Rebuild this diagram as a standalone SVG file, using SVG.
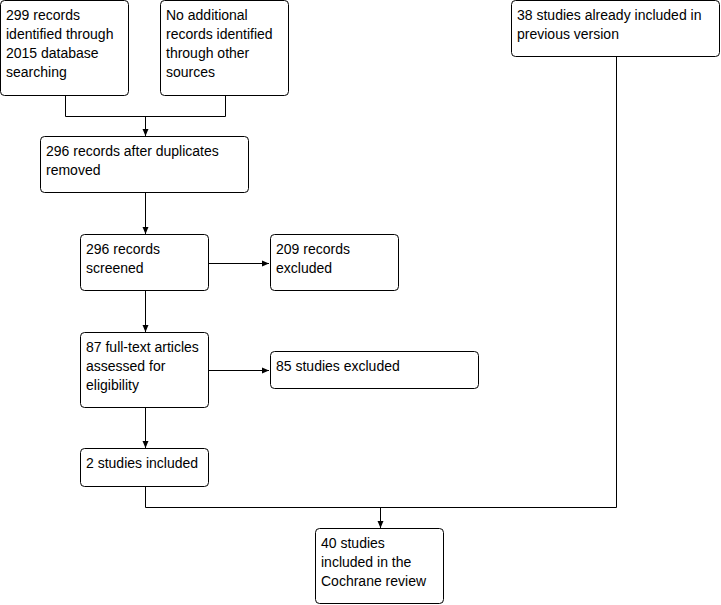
<svg xmlns="http://www.w3.org/2000/svg" width="721" height="605" viewBox="0 0 721 605">
<style>
.b{fill:#fff;stroke:#000;stroke-width:1}
.t{font-family:"Liberation Sans",Arial,sans-serif;font-size:14px;fill:#000}
.c{fill:none;stroke:#000;stroke-width:1}
</style>
<defs>
<marker id="ah" markerWidth="8" markerHeight="8" refX="7" refY="4" orient="auto" markerUnits="userSpaceOnUse">
<path d="M0,1 L7,4 L0,7 Z" fill="#000"/>
</marker>
</defs>
<rect width="721" height="605" fill="#fff"/>
<g id="connectors">
<path class="c" d="M65.5,95 V116.5 H225.5 V95"/>
<path class="c" d="M145.5,116.5 V136" marker-end="url(#ah)"/>
<path class="c" d="M145.5,193 V234" marker-end="url(#ah)"/>
<path class="c" d="M209,263.5 H269" marker-end="url(#ah)"/>
<path class="c" d="M145.5,291 V332" marker-end="url(#ah)"/>
<path class="c" d="M209,370.5 H269" marker-end="url(#ah)"/>
<path class="c" d="M145.5,408 V448" marker-end="url(#ah)"/>
<path class="c" d="M145.5,487 V507.5 H616.5 V57"/>
<path class="c" d="M380.5,507.5 V528" marker-end="url(#ah)"/>
</g>
<g id="n1"><rect class="b" x="0.5" y="0.5" width="128" height="95" rx="4"/>
<text class="t" x="6" y="20">299 records</text><text class="t" x="6" y="39">identified through</text><text class="t" x="6" y="58">2015 database</text><text class="t" x="6" y="77">searching</text></g>
<g id="n2"><rect class="b" x="160.5" y="0.5" width="128" height="95" rx="4"/>
<text class="t" x="166" y="20">No additional</text><text class="t" x="166" y="39">records identified</text><text class="t" x="166" y="58">through other</text><text class="t" x="166" y="77">sources</text></g>
<g id="n3"><rect class="b" x="511.5" y="0.5" width="208" height="56" rx="4"/>
<text class="t" x="517" y="20">38 studies already included in</text><text class="t" x="517" y="39">previous version</text></g>
<g id="n4"><rect class="b" x="40.5" y="136.5" width="208" height="56" rx="4"/>
<text class="t" x="46" y="156">296 records after duplicates</text><text class="t" x="46" y="175">removed</text></g>
<g id="n5"><rect class="b" x="80.5" y="234.5" width="128" height="56" rx="4"/>
<text class="t" x="86" y="254">296 records</text><text class="t" x="86" y="273">screened</text></g>
<g id="n6"><rect class="b" x="270.5" y="234.5" width="128" height="56" rx="4"/>
<text class="t" x="276" y="254">209 records</text><text class="t" x="276" y="273">excluded</text></g>
<g id="n7"><rect class="b" x="80.5" y="332.5" width="128" height="75" rx="4"/>
<text class="t" x="86" y="352">87 full-text articles</text><text class="t" x="86" y="371">assessed for</text><text class="t" x="86" y="390">eligibility</text></g>
<g id="n8"><rect class="b" x="270.5" y="351.5" width="208" height="37" rx="4"/>
<text class="t" x="276" y="371">85 studies excluded</text></g>
<g id="n9"><rect class="b" x="80.5" y="448.5" width="128" height="38" rx="4"/>
<text class="t" x="86" y="468">2 studies included</text></g>
<g id="n10"><rect class="b" x="315.5" y="528.5" width="128" height="75" rx="4"/>
<text class="t" x="321" y="548">40 studies</text><text class="t" x="321" y="567">included in the</text><text class="t" x="321" y="586">Cochrane review</text></g>
</svg>
